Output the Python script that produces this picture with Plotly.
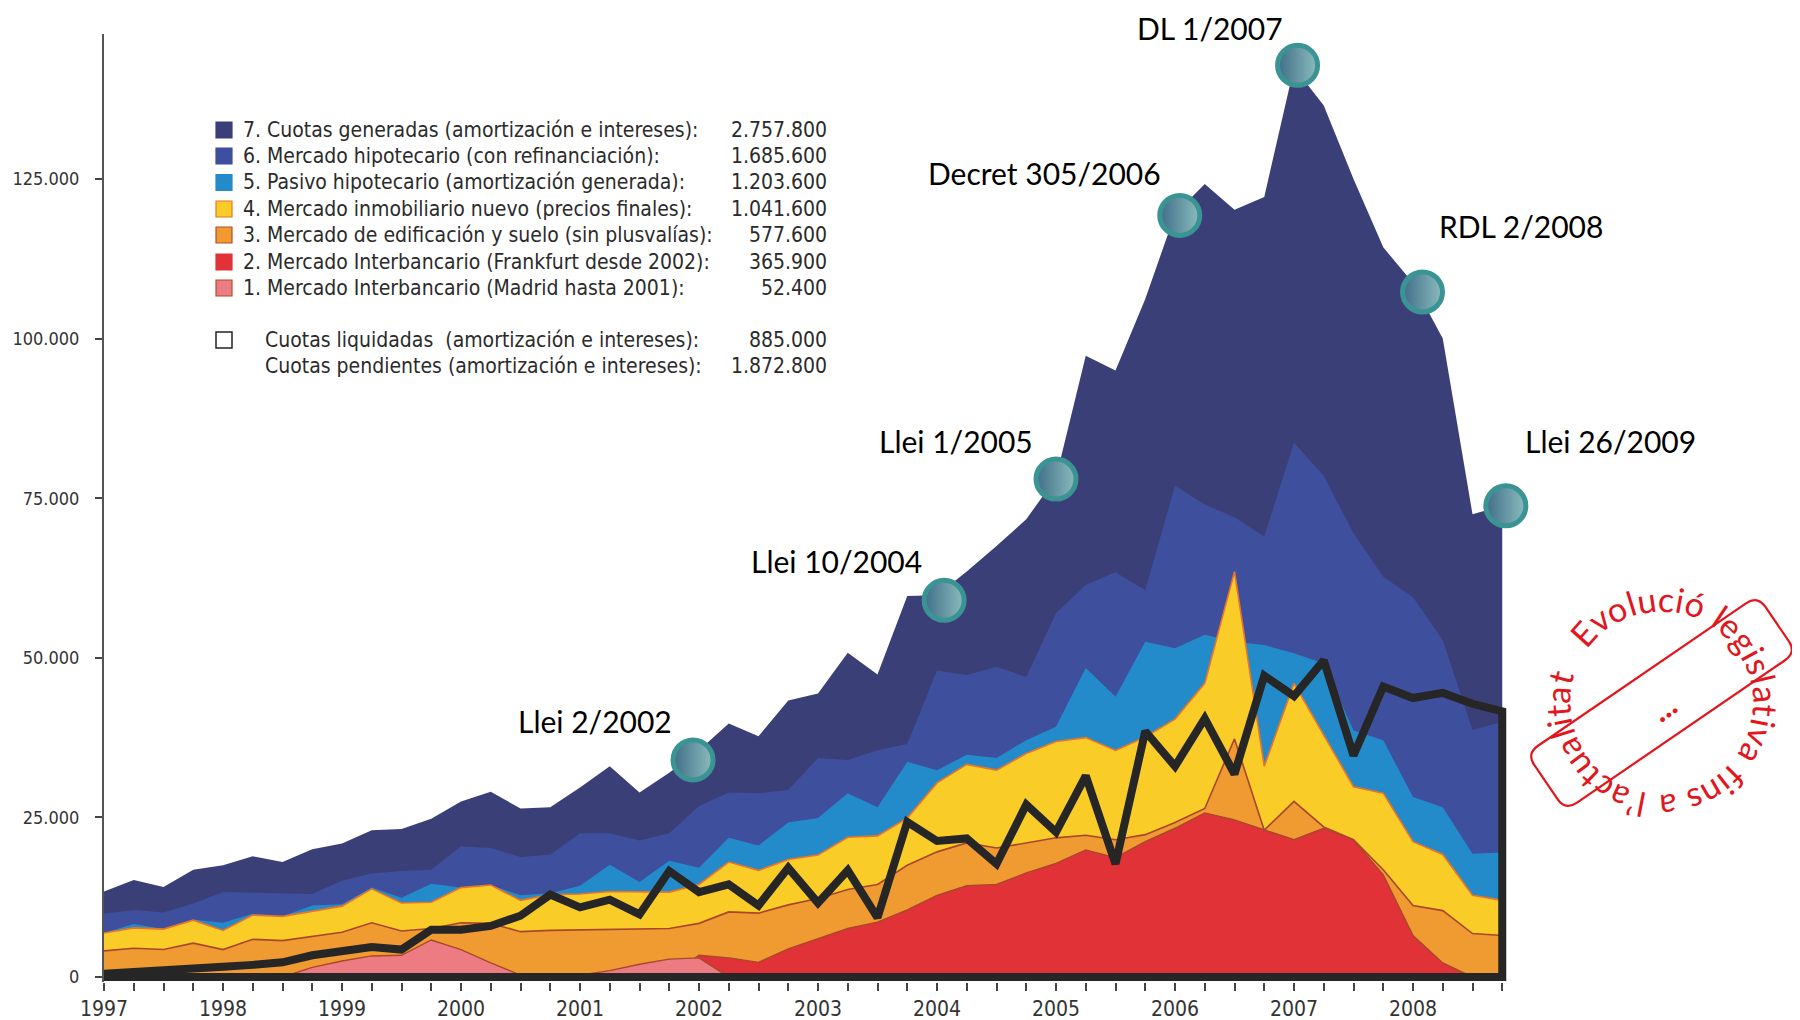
import math
import plotly.graph_objects as go

# ---------------- DATA ----------------
quarters = [1997.0, 1997.25, 1997.5, 1997.75, 1998.0, 1998.25, 1998.5, 1998.75,
            1999.0, 1999.25, 1999.5, 1999.75, 2000.0, 2000.25, 2000.5, 2000.75,
            2001.0, 2001.25, 2001.5, 2001.75, 2002.0, 2002.25, 2002.5, 2002.75,
            2003.0, 2003.25, 2003.5, 2003.75, 2004.0, 2004.25, 2004.5, 2004.75,
            2005.0, 2005.25, 2005.5, 2005.75, 2006.0, 2006.25, 2006.5, 2006.75,
            2007.0, 2007.25, 2007.5, 2007.75, 2008.0, 2008.25, 2008.5, 2008.75]

# upper boundary of each coloured band (absolute height, EUR millions)
cuotas_generadas = [13400, 15200, 14100, 16800, 17500, 18900, 18000, 20000,
                    20900, 23000, 23200, 24800, 27500, 29000, 26400, 26600,
                    29700, 33000, 28900, 32000, 35500, 39700, 37700, 43300,
                    44400, 50800, 47400, 59700, 59800, 63500, 67500, 71700,
                    78200, 97300, 95000, 106200, 119500, 124200, 120200, 122200,
                    142500, 136500, 125000, 114300, 108700, 100000, 72500, 73800]
mercado_hipotecario = [9900, 10500, 10100, 11500, 13300, 13200, 13000, 13000,
                       15100, 16200, 16600, 16800, 20500, 20200, 18800, 19200,
                       22500, 22500, 21400, 22500, 26800, 28900, 28800, 29300,
                       34300, 34000, 35500, 36500, 48000, 47300, 48600, 47000,
                       57000, 61400, 63400, 60600, 77000, 74000, 72000, 69000,
                       83700, 78500, 69500, 62700, 59500, 52800, 38700, 40000]
pasivo_hipotecario = [6900, 8300, 7500, 9000, 8500, 9900, 9500, 11200,
                      11400, 14000, 12400, 14600, 14000, 14400, 12800, 13100,
                      14300, 17600, 14900, 18200, 17100, 21800, 20600, 24200,
                      24900, 28800, 26600, 33700, 32400, 34800, 34300, 37100,
                      39200, 48400, 43900, 52500, 51500, 53600, 52500, 52000,
                      50700, 49100, 38600, 37100, 28200, 26600, 19300, 19500]
mercado_inmobiliario = [6900, 7700, 7500, 8900, 7300, 9700, 9500, 10300,
                        11100, 13800, 11600, 11700, 14000, 14400, 12000, 12900,
                        13000, 13400, 13400, 13300, 14500, 18000, 16700, 18400,
                        19100, 21900, 22100, 24900, 30400, 33300, 32400, 35000,
                        36900, 37500, 35500, 37600, 40400, 46000, 63500, 33000,
                        46000, 38000, 29800, 28800, 21200, 19200, 12800, 12000]
mercado_edificacion = [4100, 4500, 4300, 5300, 4300, 5900, 5700, 6400,
                       7000, 8500, 7200, 7600, 8500, 8400, 7100, 7300,
                       7400, 7500, 7500, 7600, 8400, 10200, 10000, 11300,
                       12300, 13700, 14500, 17500, 19600, 21000, 20200, 21000,
                       21800, 22200, 21500, 22300, 24200, 26400, 37300, 23000,
                       27500, 23500, 21500, 16800, 11200, 10400, 6800, 6500]
interbancario_frankfurt = [0, 0, 0, 0, 0, 0, 0, 0,
                           0, 0, 0, 0, 0, 0, 0, 0,
                           0, 0, 0, 0, 3400, 3000, 2300, 4400,
                           6000, 7600, 8600, 10500, 12800, 14300, 14500, 16300,
                           17800, 19900, 18700, 21200, 23300, 25700, 24600, 23000,
                           21500, 23300, 21500, 16000, 6500, 2200, 0, 0]
interbancario_madrid = [0, 0, 0, 0, 0, 0, 0, 1500,
                        2500, 3300, 3400, 5800, 4300, 2200, 300, 0,
                        300, 1000, 2000, 2800, 3000, 0, 0, 0,
                        0, 0, 0, 0, 0, 0, 0, 0,
                        0, 0, 0, 0, 0, 0, 0, 0,
                        0, 0, 0, 0, 0, 0, 0, 0]
cuotas_liquidadas = [500, 700, 1000, 1300, 1600, 1900, 2300, 3400,
                     4000, 4700, 4300, 7400, 7400, 8000, 9600, 12900,
                     10900, 12100, 9800, 16600, 13300, 14500, 11200, 17100,
                     11600, 16700, 9300, 24300, 21300, 21700, 17700, 27000,
                     22700, 31500, 17700, 38500, 33000, 40500, 31800, 47200,
                     44000, 49600, 34700, 45500, 43700, 44500, 42800, 41600]

legend_labels = ["7. Cuotas generadas (amortización e intereses):",
                 "6. Mercado hipotecario (con refinanciación):",
                 "5. Pasivo hipotecario (amortización generada):",
                 "4. Mercado inmobiliario nuevo (precios finales):",
                 "3. Mercado de edificación y suelo (sin plusvalías):",
                 "2. Mercado Interbancario (Frankfurt desde 2002):",
                 "1. Mercado Interbancario (Madrid hasta 2001):"]
legend_totals = ["2.757.800", "1.685.600", "1.203.600", "1.041.600",
                 "577.600", "365.900", "52.400"]
extra_labels = ["Cuotas liquidadas  (amortización e intereses):",
                "Cuotas pendientes (amortización e intereses):"]
extra_totals = ["885.000", "1.872.800"]

law_names = ["Llei 2/2002", "Llei 10/2004", "Llei 1/2005", "Decret 305/2006",
             "DL 1/2007", "RDL 2/2008", "Llei 26/2009"]
law_x = [2001.95, 2004.06, 2005.0, 2006.04, 2007.03, 2008.08, 2008.78]
law_y = [34000, 59000, 78000, 119300, 142800, 107300, 73800]

y_tickvals = [0, 25000, 50000, 75000, 100000, 125000]
y_ticktext = ["0", "25.000", "50.000", "75.000", "100.000", "125.000"]

stamp_text = "Evolució legislativa fins a l’actualitat"

# ---------------- STYLE ----------------
OFF = 8  # the page body margin shifts the figure by 8 px
W, H = 1792, 1012
ML, MR, MT, MB = 96, 293, 26, 38
PW, PH = W - ML - MR, H - MT - MB
NARROW = "Liberation Sans Narrow, Arial Narrow, DejaVu Sans Condensed, sans-serif"
LABEL_FONT = "Lato, Open Sans, sans-serif"

band_styles = [  # (fill, line colour, line width)
    ("#3b3f78", "#3b3f78", 0),
    ("#3d4f9d", "#3d4f9d", 0),
    ("#248bca", "#248bca", 0),
    ("#f9cc28", "#e8742c", 1.6),
    ("#f09a32", "#a9472c", 1.6),
    ("#e03237", "#a9472c", 1.4),
    ("#ec7c82", "#a9472c", 1.4),
]
law_shift = [(-98, 39), (-108, 39), (-100, 38), (-135, 42), (-88, 37), (98, 66), (105, 65)]


def pxx(sx):
    return (sx - OFF - ML) / PW


def pxy(sy):
    return (H - MB - (sy - OFF)) / PH


fig = go.Figure()

bands = [cuotas_generadas, mercado_hipotecario, pasivo_hipotecario,
         mercado_inmobiliario, mercado_edificacion, interbancario_frankfurt,
         interbancario_madrid]
names = [l.split(" (")[0] for l in legend_labels]
for vals, (fc, lc, lw), nm in zip(bands, band_styles, names):
    fig.add_trace(go.Scatter(
        x=quarters, y=vals, mode="lines", fill="tozeroy", fillcolor=fc,
        line=dict(color=lc, width=lw), name=nm, hoverinfo="skip"))

# cuotas liquidadas: outlined (unfilled) region
fig.add_trace(go.Scatter(
    x=quarters + [quarters[-1], quarters[0]],
    y=cuotas_liquidadas + [0, 0],
    mode="lines", line=dict(color="#262626", width=8),
    name="Cuotas liquidadas", hoverinfo="skip"))

# legislative milestones
fig.add_trace(go.Scatter(
    x=law_x, y=law_y, mode="markers", cliponaxis=False,
    marker=dict(size=40, color="#3f6e88",
                gradient=dict(type="horizontal", color="#8cbcbe"),
                line=dict(width=5, color="#3a9494")),
    name="Lleis", hoverinfo="skip"))

annotations = []
for nm, x, y, (dx, dy) in zip(law_names, law_x, law_y, law_shift):
    annotations.append(dict(x=x, y=y, xref="x", yref="y", text=nm, showarrow=False,
                            xshift=dx, yshift=dy, xanchor="center", yanchor="middle",
                            font=dict(family=LABEL_FONT, size=30, color="#000000")))

# ---------------- custom legend ----------------
shapes = []
row_y = [130, 156, 182.5, 209, 235, 262, 288]
sq_border = ["#3b3f78", "#3d4f9d", "#248bca", "#e8742c", "#b0502c", "#e03237", "#b0502c"]
for lab, tot, ry, (fc, _, _), bc in zip(legend_labels, legend_totals, row_y, band_styles, sq_border):
    shapes.append(dict(type="rect", xref="paper", yref="paper",
                       x0=pxx(216), x1=pxx(232), y0=pxy(ry + 8), y1=pxy(ry - 8),
                       fillcolor=fc, line=dict(color=bc, width=1.2)))
    annotations.append(dict(x=pxx(241), y=pxy(ry), xref="paper", yref="paper", text=lab,
                            showarrow=False, xanchor="left", yanchor="middle",
                            font=dict(family=NARROW, size=21, color="#2b2b2b")))
    annotations.append(dict(x=pxx(829), y=pxy(ry), xref="paper", yref="paper", text=tot,
                            showarrow=False, xanchor="right", yanchor="middle",
                            font=dict(family=NARROW, size=21, color="#2b2b2b")))
extra_y = [340, 366]
shapes.append(dict(type="rect", xref="paper", yref="paper",
                   x0=pxx(216), x1=pxx(232), y0=pxy(348), y1=pxy(332),
                   fillcolor="white", line=dict(color="#222222", width=1.5)))
for lab, tot, ry in zip(extra_labels, extra_totals, extra_y):
    annotations.append(dict(x=pxx(263), y=pxy(ry), xref="paper", yref="paper", text=lab,
                            showarrow=False, xanchor="left", yanchor="middle",
                            font=dict(family=NARROW, size=21, color="#2b2b2b")))
    annotations.append(dict(x=pxx(829), y=pxy(ry), xref="paper", yref="paper", text=tot,
                            showarrow=False, xanchor="right", yanchor="middle",
                            font=dict(family=NARROW, size=21, color="#2b2b2b")))

# ---------------- red stamp ----------------
RED = "#e2161c"
cx, cy = 1661.5, 703.0
ang = math.radians(-34.4)
L, Wd, rr = 280.0, 69.0, 14.0
ca, sa = math.cos(ang), math.sin(ang)


def tr(u, v):
    sx = cx + u * ca - v * sa
    sy = cy + u * sa + v * ca
    return f"{pxx(sx):.5f},{pxy(sy):.5f}"


hl, hw = L / 2, Wd / 2
path = (f"M {tr(-hl + rr, -hw)} L {tr(hl - rr, -hw)} Q {tr(hl, -hw)} {tr(hl, -hw + rr)} "
        f"L {tr(hl, hw - rr)} Q {tr(hl, hw)} {tr(hl - rr, hw)} "
        f"L {tr(-hl + rr, hw)} Q {tr(-hl, hw)} {tr(-hl, hw - rr)} "
        f"L {tr(-hl, -hw + rr)} Q {tr(-hl, -hw)} {tr(-hl + rr, -hw)} Z")
shapes.append(dict(type="path", xref="paper", yref="paper", path=path,
                   line=dict(color=RED, width=2.2), fillcolor="rgba(0,0,0,0)"))
annotations.append(dict(x=pxx(cx + 2), y=pxy(cy + 4), xref="paper", yref="paper",
                        text="<b>...</b>", showarrow=False, textangle=-34.4,
                        xanchor="center", yanchor="middle",
                        font=dict(family=LABEL_FONT, size=32, color=RED)))

cw = {"E": 0.58, "v": 0.5, "o": 0.56, "l": 0.25, "u": 0.56, "c": 0.47, "i": 0.25,
      "ó": 0.56, " ": 0.26, "e": 0.53, "g": 0.52, "s": 0.42, "a": 0.51, "t": 0.35,
      "f": 0.33, "n": 0.56, "’": 0.22}
ws = [cw.get(c, 0.5) + 0.08 for c in stamp_text]
start_deg, end_deg, R = -48.0, 284.0, 105.0
span_units = sum(ws) - ws[0] / 2 - ws[-1] / 2
cum = 0.0
for i, ch in enumerate(stamp_text):
    centre_units = cum + ws[i] / 2 - ws[0] / 2
    cum += ws[i]
    if ch == " ":
        continue
    th = start_deg + centre_units / span_units * (end_deg - start_deg)
    t = math.radians(th)
    sx = cx + R * math.sin(t)
    sy = cy - R * math.cos(t)
    rot = ((th + 180) % 360) - 180
    annotations.append(dict(x=pxx(sx), y=pxy(sy), xref="paper", yref="paper", text=ch,
                            showarrow=False, textangle=rot, xanchor="center",
                            yanchor="middle",
                            font=dict(family=LABEL_FONT, size=34, color=RED)))

# ---------------- axes / layout ----------------
x_ticktext = [str(int(q)) if q == int(q) else "" for q in quarters]
px_per_unit = 798.0 / 125000.0
zero_px = 977 - OFF
y_lo = -(H - MB - zero_px) / px_per_unit
y_hi = (zero_px - MT) / px_per_unit

fig.update_layout(
    width=W, height=H,
    margin=dict(l=ML, r=MR, t=MT, b=MB, autoexpand=False),
    paper_bgcolor="white", plot_bgcolor="white",
    showlegend=False,
    xaxis=dict(range=[1997.0, 1997.0 + PW / 119.0], tickvals=quarters,
               ticktext=x_ticktext, ticks="outside", ticklen=8, tickwidth=1.5,
               tickcolor="#444444", showline=False, showgrid=False, zeroline=False,
               tickfont=dict(family=NARROW, size=21, color="#333333")),
    yaxis=dict(range=[y_lo, y_hi], tickvals=y_tickvals, ticktext=y_ticktext,
               ticks="outside", ticklen=7, tickwidth=1.5, tickcolor="#444444",
               showline=True, linecolor="#555555", linewidth=2, showgrid=False,
               zeroline=False, ticklabelstandoff=12,
               tickfont=dict(family=NARROW, size=18, color="#333333")),
    shapes=shapes,
    annotations=annotations,
)

fig.write_html("out.html")
